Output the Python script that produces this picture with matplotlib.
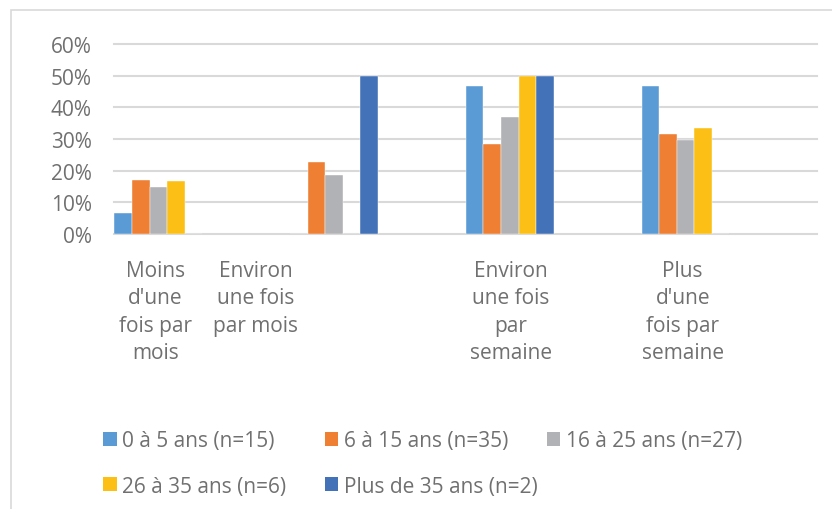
import matplotlib
matplotlib.use("Agg")
import matplotlib.pyplot as plt
from matplotlib.patches import Rectangle, Patch
import numpy as np

# Frequency categories (x axis)
categories = [
    "Moins\nd'une\nfois par\nmois",
    "Environ\nune fois\npar mois",
    "Environ\nune fois\npar\nsemaine",
    "Plus\nd'une\nfois par\nsemaine",
]
# Where each category caption sits along the axis
label_pos = [-0.015, 0.554, 2.007, 2.984]

# Age groups (series)
series_names = [
    "0 à 5 ans (n=15)",
    "6 à 15 ans (n=35)",
    "16 à 25 ans (n=27)",
    "26 à 35 ans (n=6)",
    "Plus de 35 ans (n=2)",
]
# Share of respondents in each category, in percent
age_0_5 = [6.67, 0.0, 46.67, 46.67]
age_6_15 = [17.14, 22.86, 28.57, 31.43]
age_16_25 = [14.81, 18.52, 37.04, 29.63]
age_26_35 = [16.67, 0.0, 50.0, 33.33]
age_35_plus = [0.0, 50.0, 50.0, 0.0]
series_values = [age_0_5, age_6_15, age_16_25, age_26_35, age_35_plus]

yticks = [0, 10, 20, 30, 40, 50, 60]
ytick_labels = ["0%", "10%", "20%", "30%", "40%", "50%", "60%"]

colors = ["#5b9bd5", "#ee7f33", "#b1b2b5", "#fbbf16", "#4472b8"]
text_color = "#707070"
grid_color = "#d9d9d9"
FONT = "Open Sans"
FS = 15

W, H = 832, 510
fig = plt.figure(figsize=(W / 100, H / 100), dpi=100)
fig.patch.set_facecolor("white")

# Chart frame (runs off the right and bottom edges)
fig.add_artist(Rectangle((11 / W, -0.1), 1.2, 1 - 11 / H + 0.1,
                         transform=fig.transFigure, fill=False,
                         edgecolor="#d9d9d9", linewidth=1.2))

ax = fig.add_axes([114 / W, 1 - 235 / H, (817 - 114) / W, (235 - 45) / H])

x = np.arange(len(categories))
bw = 0.1
for j, (name, vals, c) in enumerate(zip(series_names, series_values, colors)):
    ax.bar(x + (j - 2) * bw, vals, width=bw, color=c, label=name,
           edgecolor="white", linewidth=0.3, zorder=3)

ax.set_xlim(-0.252, 3.748)
ax.set_ylim(0, 60)
ax.set_yticks(yticks)
ax.set_yticklabels(ytick_labels)
ax.yaxis.grid(True, color=grid_color, linewidth=1.5, zorder=0)
for gl in ax.get_ygridlines():
    gl.set_clip_on(False)
ax.set_axisbelow(True)
for s in ax.spines.values():
    s.set_visible(False)

ax.set_xticks(label_pos)
ax.set_xticklabels(categories, linespacing=1.38, ha="center",
                   multialignment="center")
ax.tick_params(axis="x", length=0, pad=19, labelsize=FS,
               labelcolor=text_color)
ax.tick_params(axis="y", length=0, pad=16, labelsize=FS,
               labelcolor=text_color)
for t in ax.get_xticklabels() + ax.get_yticklabels():
    t.set_fontfamily(FONT)

# Legend entries laid out on an even grid
legend_spots = [(103.3, 442), (325, 442), (546.7, 442), (103.3, 487), (325, 487)]
for name, c, (lx, ly) in zip(series_names, colors, legend_spots):
    fig.legend(handles=[Patch(facecolor=c, edgecolor="none", label=name)],
               loc="center left", bbox_to_anchor=(lx / W, 1 - ly / H),
               bbox_transform=fig.transFigure, frameon=False,
               borderpad=0, borderaxespad=0, handlelength=0.64,
               handleheight=0.64, handletextpad=0.27,
               prop={"family": FONT, "size": FS}, labelcolor=text_color)

fig.savefig("out.png", dpi=100, facecolor="white")
